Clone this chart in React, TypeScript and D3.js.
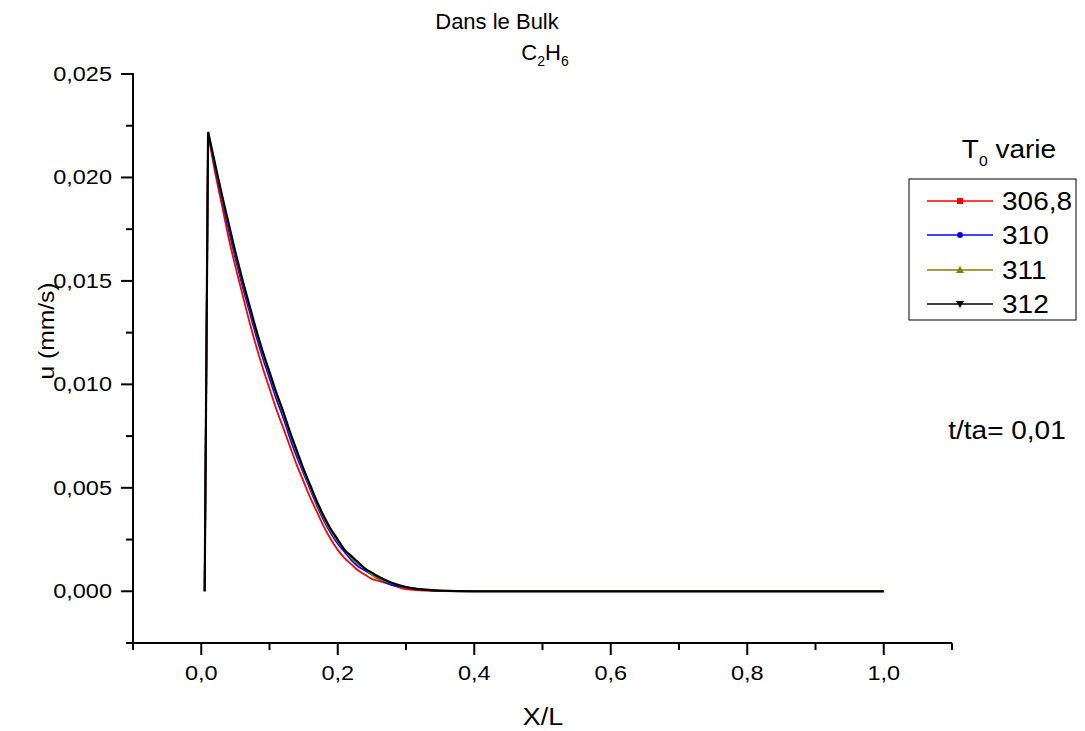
import React from 'react';
import * as d3 from 'd3';

// X/L grid of the simulation output
const xs = [
  0.005, 0.01, 0.02, 0.03, 0.04, 0.05, 0.06, 0.07, 0.08, 0.09,
  0.10, 0.11, 0.12, 0.13, 0.14, 0.15, 0.16, 0.17, 0.18, 0.19,
  0.20, 0.21, 0.22, 0.23, 0.24, 0.25, 0.26, 0.28, 0.30, 0.32,
  0.35, 0.40, 0.5, 0.6, 0.7, 0.8, 0.9, 1.0,
];

const u3068 = [
  0, 0.0221, 0.0203, 0.0187, 0.0171, 0.0157, 0.0144, 0.0131, 0.0119, 0.0108,
  0.0098, 0.0088, 0.0079, 0.0070, 0.0061, 0.0053, 0.0045, 0.0038, 0.0031, 0.0025,
  0.0020, 0.0016, 0.0013, 0.0010, 0.0008, 0.0006, 0.0005, 0.0003, 0.0001, 0.00005,
  0.00001, 0, 0, 0, 0, 0, 0, 0,
];
const u310 = [
  0, 0.0222, 0.0205, 0.0190, 0.0175, 0.0161, 0.0148, 0.0136, 0.0124, 0.0113,
  0.0103, 0.0093, 0.0084, 0.0074, 0.0065, 0.0057, 0.0049, 0.0041, 0.0034, 0.0028,
  0.0023, 0.0019, 0.0015, 0.0012, 0.0010, 0.0008, 0.0006, 0.0003, 0.0002, 0.0001,
  0.00002, 0, 0, 0, 0, 0, 0, 0,
];
const u311 = [
  0, 0.0222, 0.0206, 0.0191, 0.0177, 0.0163, 0.0150, 0.0138, 0.0126, 0.0115,
  0.0105, 0.0095, 0.0086, 0.0076, 0.0067, 0.0058, 0.0050, 0.0042, 0.0035, 0.0029,
  0.0024, 0.0020, 0.0016, 0.0013, 0.0011, 0.0008, 0.0006, 0.0004, 0.0002, 0.0001,
  0.00003, 0, 0, 0, 0, 0, 0, 0,
];
const u312 = [
  0, 0.0222, 0.0207, 0.0192, 0.0178, 0.0164, 0.0151, 0.0139, 0.0127, 0.0116,
  0.0106, 0.0096, 0.0087, 0.0077, 0.0068, 0.0059, 0.0051, 0.0043, 0.0036, 0.0030,
  0.0025, 0.0020, 0.0017, 0.0014, 0.0011, 0.0009, 0.0007, 0.0004, 0.0002, 0.0001,
  0.00003, 0, 0, 0, 0, 0, 0, 0,
];

const seriesNames = ['306,8', '310', '311', '312'];
const seriesColors = ['#ff0000', '#0000ff', '#808000', '#000000'];
const seriesMarkers = ['square', 'circle', 'up', 'down'];
const seriesValues = [u3068, u310, u311, u312];

const xMajor = [0, 0.2, 0.4, 0.6, 0.8, 1.0];
const xMinor = [-0.1, 0.1, 0.3, 0.5, 0.7, 0.9, 1.1];
const yMajor = [0, 0.005, 0.01, 0.015, 0.02, 0.025];
const yMinor = [-0.0025, 0.0025, 0.0075, 0.0125, 0.0175, 0.0225];

const FONT = 'Arial, "Liberation Sans", sans-serif';
const SX = 1.12; // text in the source is slightly stretched horizontally

const comma = (s: string) => s.replace('.', ',');

function Txt({ x, y, size, anchor = 'middle', rotate = 0, sx = SX, children }: any) {
  return (
    <text
      transform={`translate(${x},${y}) rotate(${rotate}) scale(${sx},1)`}
      fontSize={size}
      fontFamily={FONT}
      textAnchor={anchor}
      fill="#000"
    >
      {children}
    </text>
  );
}

function Marker({ type, x, y, color }: any) {
  if (type === 'square') return <rect x={x - 3} y={y - 3} width={6} height={6} fill={color} />;
  if (type === 'circle') return <circle cx={x} cy={y} r={3} fill={color} />;
  if (type === 'up') return <path d={`M${x},${y - 4}L${x + 4},${y + 3}L${x - 4},${y + 3}Z`} fill={color} />;
  return <path d={`M${x},${y + 4}L${x + 4},${y - 3}L${x - 4},${y - 3}Z`} fill={color} />;
}

export default function App() {
  const width = 1085;
  const height = 731;

  const x = d3.scaleLinear().domain([-0.1, 1.1]).range([133, 952]);
  const y = d3.scaleLinear().domain([-0.0025, 0.025]).range([643, 74]);

  // sharp rise to the peak, smooth decay after it
  const rise = d3.line<number>()
    .x((_, i) => x(xs[i]))
    .y((d) => y(d));
  const decay = d3.line<number>()
    .x((_, i) => x(xs[i + 1]))
    .y((d) => y(d))
    .curve(d3.curveMonotoneX);

  const fx = d3.format('.1f');
  const fy = d3.format('.3f');

  const legendY = [201, 235, 270, 304];

  return (
    <svg
      width={width}
      height={height}
      style={{ position: 'absolute', left: 0, top: 0, background: '#fff' }}
    >
      {/* title */}
      <Txt x={497} y={29} size={22} sx={1}>Dans le Bulk</Txt>
      <text transform="translate(545,60)" fontSize={22} fontFamily={FONT} textAnchor="middle">
        C<tspan fontSize={14} dy={6}>2</tspan><tspan dy={-6}>H</tspan><tspan fontSize={14} dy={6}>6</tspan>
      </text>

      {/* series */}
      {seriesValues.map((vals, i) => (
        <g key={seriesNames[i]} fill="none" stroke={seriesColors[i]} strokeWidth={i === 3 ? 2.2 : 1.8} strokeLinejoin="round">
          <path d={rise(vals.slice(0, 2)) || ''} />
          <path d={decay(vals.slice(1)) || ''} />
        </g>
      ))}

      {/* axes */}
      <g stroke="#000" strokeWidth={2} fill="none">
        <line x1={133} y1={73} x2={133} y2={644} />
        <line x1={132} y1={643} x2={952} y2={643} />
        {xMajor.map((t) => <line key={'xM' + t} x1={x(t)} x2={x(t)} y1={643} y2={655} />)}
        {xMinor.map((t) => <line key={'xm' + t} x1={x(t)} x2={x(t)} y1={643} y2={650} />)}
        {yMajor.map((t) => <line key={'yM' + t} x1={121} x2={133} y1={y(t)} y2={y(t)} />)}
        {yMinor.map((t) => <line key={'ym' + t} x1={126} x2={133} y1={y(t)} y2={y(t)} />)}
      </g>

      {xMajor.map((t) => (
        <Txt key={'xl' + t} x={x(t)} y={680} size={21}>{comma(fx(t))}</Txt>
      ))}
      {yMajor.map((t) => (
        <Txt key={'yl' + t} x={112} y={y(t) + 7} size={21} anchor="end">{comma(fy(t))}</Txt>
      ))}

      {/* axis titles */}
      <Txt x={543} y={725} size={24}>X/L</Txt>
      <Txt x={54} y={331} size={22} rotate={-90}>u (mm/s)</Txt>

      {/* legend */}
      <text transform={`translate(1009,158) scale(${SX},1)`} fontSize={25} fontFamily={FONT} textAnchor="middle">
        T<tspan fontSize={14} dy={8}>0</tspan><tspan dy={-8}>{'  varie'}</tspan>
      </text>
      <rect x={909} y={179} width={167} height={141} fill="#fff" stroke="#000" strokeWidth={1} />
      {seriesNames.map((name, i) => (
        <g key={'lg' + name}>
          <line x1={927} x2={993} y1={legendY[i]} y2={legendY[i]} stroke={seriesColors[i]} strokeWidth={1.5} />
          <Marker type={seriesMarkers[i]} x={960} y={legendY[i]} color={seriesColors[i]} />
          <Txt x={1002} y={legendY[i] + 9} size={25} anchor="start">{name}</Txt>
        </g>
      ))}

      <Txt x={1007} y={439} size={25}>t/ta= 0,01</Txt>
    </svg>
  );
}
